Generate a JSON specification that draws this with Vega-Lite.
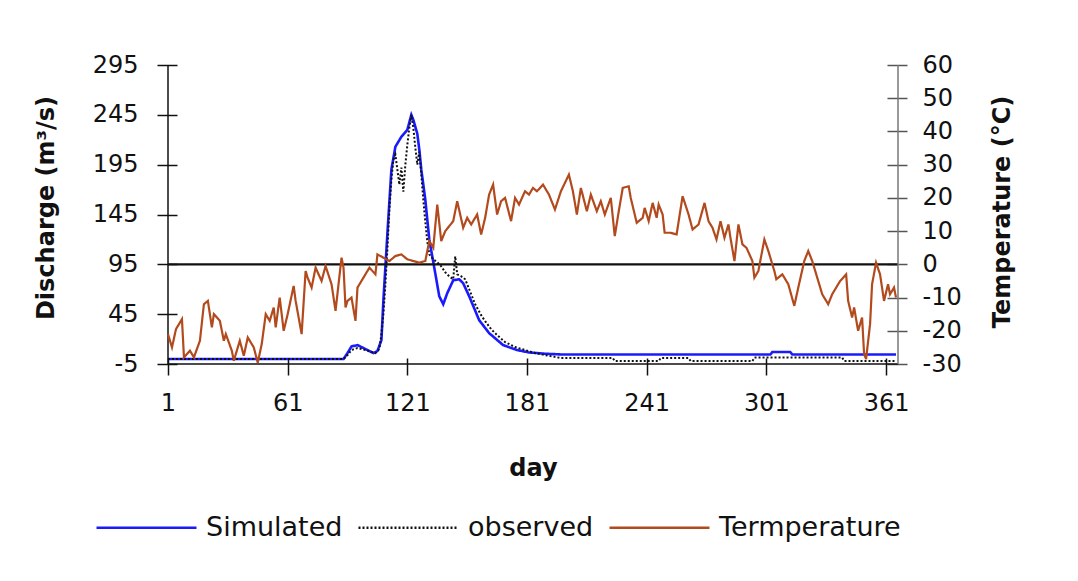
{
  "$schema": "https://vega.github.io/schema/vega-lite/v6.json",
  "autosize": {"type": "none"},
  "width": 730,
  "height": 299,
  "padding": {"left": 168, "top": 65, "right": 180, "bottom": 217},
  "background": "white",
  "config": {
    "view": {"stroke": null},
    "font": "DejaVu Sans",
    "axis": {"labelFont": "DejaVu Sans", "titleFont": "DejaVu Sans", "labelColor": "#111", "titleColor": "#111", "tickColor": "#111", "grid": false, "labelFlush": false, "labelOverlap": false}
  },
  "datasets": {
    "d": [
      {"day": 1, "value": 0, "series": "Simulated"},
      {"day": 89, "value": 0, "series": "Simulated"},
      {"day": 91, "value": 6, "series": "Simulated"},
      {"day": 93, "value": 12.6, "series": "Simulated"},
      {"day": 96, "value": 14, "series": "Simulated"},
      {"day": 100, "value": 10, "series": "Simulated"},
      {"day": 104, "value": 6, "series": "Simulated"},
      {"day": 106, "value": 8, "series": "Simulated"},
      {"day": 108, "value": 19, "series": "Simulated"},
      {"day": 109, "value": 59, "series": "Simulated"},
      {"day": 111, "value": 126, "series": "Simulated"},
      {"day": 113, "value": 190, "series": "Simulated"},
      {"day": 115, "value": 213, "series": "Simulated"},
      {"day": 118, "value": 223, "series": "Simulated"},
      {"day": 121, "value": 230, "series": "Simulated"},
      {"day": 123, "value": 245, "series": "Simulated"},
      {"day": 124, "value": 240, "series": "Simulated"},
      {"day": 126, "value": 226, "series": "Simulated"},
      {"day": 127, "value": 210, "series": "Simulated"},
      {"day": 128, "value": 190, "series": "Simulated"},
      {"day": 130, "value": 160, "series": "Simulated"},
      {"day": 132, "value": 120, "series": "Simulated"},
      {"day": 135, "value": 86, "series": "Simulated"},
      {"day": 137, "value": 63, "series": "Simulated"},
      {"day": 139, "value": 55, "series": "Simulated"},
      {"day": 141, "value": 66, "series": "Simulated"},
      {"day": 144, "value": 79, "series": "Simulated"},
      {"day": 147, "value": 80, "series": "Simulated"},
      {"day": 149, "value": 76, "series": "Simulated"},
      {"day": 152, "value": 63, "series": "Simulated"},
      {"day": 157, "value": 39, "series": "Simulated"},
      {"day": 162, "value": 26, "series": "Simulated"},
      {"day": 169, "value": 14, "series": "Simulated"},
      {"day": 176, "value": 9, "series": "Simulated"},
      {"day": 182, "value": 6.6, "series": "Simulated"},
      {"day": 190, "value": 5.3, "series": "Simulated"},
      {"day": 199, "value": 4.5, "series": "Simulated"},
      {"day": 303, "value": 4.5, "series": "Simulated"},
      {"day": 304, "value": 7, "series": "Simulated"},
      {"day": 313, "value": 7, "series": "Simulated"},
      {"day": 314, "value": 4.5, "series": "Simulated"},
      {"day": 366, "value": 4.5, "series": "Simulated"},

      {"day": 1, "value": 0, "series": "observed"},
      {"day": 89, "value": 0, "series": "observed"},
      {"day": 91, "value": 4, "series": "observed"},
      {"day": 93, "value": 9, "series": "observed"},
      {"day": 96, "value": 11, "series": "observed"},
      {"day": 100, "value": 9, "series": "observed"},
      {"day": 103, "value": 7, "series": "observed"},
      {"day": 105, "value": 6, "series": "observed"},
      {"day": 107, "value": 10, "series": "observed"},
      {"day": 108, "value": 25, "series": "observed"},
      {"day": 109, "value": 45, "series": "observed"},
      {"day": 110, "value": 75, "series": "observed"},
      {"day": 111, "value": 110, "series": "observed"},
      {"day": 112, "value": 150, "series": "observed"},
      {"day": 113, "value": 180, "series": "observed"},
      {"day": 114, "value": 200, "series": "observed"},
      {"day": 115, "value": 205, "series": "observed"},
      {"day": 116, "value": 190, "series": "observed"},
      {"day": 117, "value": 175, "series": "observed"},
      {"day": 118, "value": 192, "series": "observed"},
      {"day": 119, "value": 168, "series": "observed"},
      {"day": 120, "value": 195, "series": "observed"},
      {"day": 121, "value": 215, "series": "observed"},
      {"day": 122, "value": 232, "series": "observed"},
      {"day": 123, "value": 245, "series": "observed"},
      {"day": 124, "value": 232, "series": "observed"},
      {"day": 125, "value": 212, "series": "observed"},
      {"day": 126, "value": 195, "series": "observed"},
      {"day": 127, "value": 208, "series": "observed"},
      {"day": 128, "value": 185, "series": "observed"},
      {"day": 129, "value": 160, "series": "observed"},
      {"day": 130, "value": 138, "series": "observed"},
      {"day": 131, "value": 118, "series": "observed"},
      {"day": 132, "value": 105, "series": "observed"},
      {"day": 134, "value": 100, "series": "observed"},
      {"day": 136, "value": 97, "series": "observed"},
      {"day": 138, "value": 93, "series": "observed"},
      {"day": 140, "value": 87, "series": "observed"},
      {"day": 142, "value": 83, "series": "observed"},
      {"day": 144, "value": 80, "series": "observed"},
      {"day": 145, "value": 103, "series": "observed"},
      {"day": 146, "value": 85, "series": "observed"},
      {"day": 148, "value": 83, "series": "observed"},
      {"day": 150, "value": 80, "series": "observed"},
      {"day": 152, "value": 70, "series": "observed"},
      {"day": 155, "value": 55, "series": "observed"},
      {"day": 158, "value": 44, "series": "observed"},
      {"day": 160, "value": 38, "series": "observed"},
      {"day": 163, "value": 30, "series": "observed"},
      {"day": 166, "value": 24, "series": "observed"},
      {"day": 170, "value": 17, "series": "observed"},
      {"day": 175, "value": 12, "series": "observed"},
      {"day": 180, "value": 9, "series": "observed"},
      {"day": 185, "value": 6, "series": "observed"},
      {"day": 190, "value": 4, "series": "observed"},
      {"day": 198, "value": 1, "series": "observed"},
      {"day": 224, "value": 1, "series": "observed"},
      {"day": 225, "value": -2, "series": "observed"},
      {"day": 247, "value": -2, "series": "observed"},
      {"day": 248, "value": 1, "series": "observed"},
      {"day": 262, "value": 1, "series": "observed"},
      {"day": 263, "value": -2, "series": "observed"},
      {"day": 294, "value": -2, "series": "observed"},
      {"day": 295, "value": 1.5, "series": "observed"},
      {"day": 339, "value": 1.5, "series": "observed"},
      {"day": 340, "value": -2, "series": "observed"},
      {"day": 366, "value": -2, "series": "observed"},

      {"day": 1, "value": -21, "series": "Termperature"},
      {"day": 3, "value": -25, "series": "Termperature"},
      {"day": 5, "value": -19.5, "series": "Termperature"},
      {"day": 8, "value": -16.5, "series": "Termperature"},
      {"day": 9, "value": -28, "series": "Termperature"},
      {"day": 12, "value": -26, "series": "Termperature"},
      {"day": 14, "value": -28, "series": "Termperature"},
      {"day": 17, "value": -23, "series": "Termperature"},
      {"day": 19, "value": -12, "series": "Termperature"},
      {"day": 21, "value": -11, "series": "Termperature"},
      {"day": 23, "value": -19, "series": "Termperature"},
      {"day": 24, "value": -15, "series": "Termperature"},
      {"day": 27, "value": -17, "series": "Termperature"},
      {"day": 29, "value": -23, "series": "Termperature"},
      {"day": 30, "value": -21, "series": "Termperature"},
      {"day": 33, "value": -26, "series": "Termperature"},
      {"day": 34, "value": -29, "series": "Termperature"},
      {"day": 37, "value": -23, "series": "Termperature"},
      {"day": 39, "value": -27.5, "series": "Termperature"},
      {"day": 41, "value": -22, "series": "Termperature"},
      {"day": 44, "value": -25, "series": "Termperature"},
      {"day": 46, "value": -29.6, "series": "Termperature"},
      {"day": 48, "value": -24, "series": "Termperature"},
      {"day": 50, "value": -15, "series": "Termperature"},
      {"day": 52, "value": -17, "series": "Termperature"},
      {"day": 54, "value": -13, "series": "Termperature"},
      {"day": 55, "value": -19, "series": "Termperature"},
      {"day": 57, "value": -10, "series": "Termperature"},
      {"day": 59, "value": -20, "series": "Termperature"},
      {"day": 61, "value": -15, "series": "Termperature"},
      {"day": 64, "value": -6.5, "series": "Termperature"},
      {"day": 65, "value": -11, "series": "Termperature"},
      {"day": 68, "value": -21, "series": "Termperature"},
      {"day": 70, "value": -2, "series": "Termperature"},
      {"day": 71, "value": -4, "series": "Termperature"},
      {"day": 73, "value": -7, "series": "Termperature"},
      {"day": 75, "value": -1, "series": "Termperature"},
      {"day": 78, "value": -5, "series": "Termperature"},
      {"day": 80, "value": -0.5, "series": "Termperature"},
      {"day": 83, "value": -6, "series": "Termperature"},
      {"day": 85, "value": -14, "series": "Termperature"},
      {"day": 88, "value": 2, "series": "Termperature"},
      {"day": 89, "value": -1, "series": "Termperature"},
      {"day": 90, "value": -13, "series": "Termperature"},
      {"day": 91, "value": -11, "series": "Termperature"},
      {"day": 93, "value": -10, "series": "Termperature"},
      {"day": 95, "value": -17, "series": "Termperature"},
      {"day": 96, "value": -7, "series": "Termperature"},
      {"day": 99, "value": -4, "series": "Termperature"},
      {"day": 102, "value": -1, "series": "Termperature"},
      {"day": 105, "value": -3, "series": "Termperature"},
      {"day": 106, "value": 3, "series": "Termperature"},
      {"day": 109, "value": 2, "series": "Termperature"},
      {"day": 112, "value": 1, "series": "Termperature"},
      {"day": 115, "value": 2.5, "series": "Termperature"},
      {"day": 118, "value": 3, "series": "Termperature"},
      {"day": 121, "value": 1.5, "series": "Termperature"},
      {"day": 124, "value": 1, "series": "Termperature"},
      {"day": 127, "value": 0.5, "series": "Termperature"},
      {"day": 130, "value": 1, "series": "Termperature"},
      {"day": 132, "value": 7, "series": "Termperature"},
      {"day": 134, "value": 5, "series": "Termperature"},
      {"day": 136, "value": 18, "series": "Termperature"},
      {"day": 138, "value": 7, "series": "Termperature"},
      {"day": 140, "value": 10, "series": "Termperature"},
      {"day": 144, "value": 13, "series": "Termperature"},
      {"day": 146, "value": 19, "series": "Termperature"},
      {"day": 149, "value": 11, "series": "Termperature"},
      {"day": 151, "value": 14, "series": "Termperature"},
      {"day": 153, "value": 12, "series": "Termperature"},
      {"day": 156, "value": 15, "series": "Termperature"},
      {"day": 158, "value": 9, "series": "Termperature"},
      {"day": 160, "value": 14, "series": "Termperature"},
      {"day": 162, "value": 21, "series": "Termperature"},
      {"day": 164, "value": 24, "series": "Termperature"},
      {"day": 166, "value": 15, "series": "Termperature"},
      {"day": 168, "value": 19, "series": "Termperature"},
      {"day": 170, "value": 20, "series": "Termperature"},
      {"day": 173, "value": 13, "series": "Termperature"},
      {"day": 175, "value": 20, "series": "Termperature"},
      {"day": 177, "value": 18, "series": "Termperature"},
      {"day": 180, "value": 22, "series": "Termperature"},
      {"day": 182, "value": 21, "series": "Termperature"},
      {"day": 184, "value": 23, "series": "Termperature"},
      {"day": 186, "value": 22, "series": "Termperature"},
      {"day": 189, "value": 24, "series": "Termperature"},
      {"day": 192, "value": 21, "series": "Termperature"},
      {"day": 195, "value": 16.5, "series": "Termperature"},
      {"day": 198, "value": 22, "series": "Termperature"},
      {"day": 202, "value": 27, "series": "Termperature"},
      {"day": 204, "value": 22, "series": "Termperature"},
      {"day": 206, "value": 15, "series": "Termperature"},
      {"day": 208, "value": 23, "series": "Termperature"},
      {"day": 211, "value": 16, "series": "Termperature"},
      {"day": 213, "value": 21, "series": "Termperature"},
      {"day": 216, "value": 16, "series": "Termperature"},
      {"day": 218, "value": 19, "series": "Termperature"},
      {"day": 220, "value": 15, "series": "Termperature"},
      {"day": 223, "value": 20, "series": "Termperature"},
      {"day": 225, "value": 8.5, "series": "Termperature"},
      {"day": 227, "value": 16, "series": "Termperature"},
      {"day": 229, "value": 23, "series": "Termperature"},
      {"day": 232, "value": 23.5, "series": "Termperature"},
      {"day": 233, "value": 20, "series": "Termperature"},
      {"day": 236, "value": 12.5, "series": "Termperature"},
      {"day": 239, "value": 14, "series": "Termperature"},
      {"day": 240, "value": 17, "series": "Termperature"},
      {"day": 242, "value": 13, "series": "Termperature"},
      {"day": 244, "value": 18.5, "series": "Termperature"},
      {"day": 246, "value": 14, "series": "Termperature"},
      {"day": 247, "value": 18, "series": "Termperature"},
      {"day": 249, "value": 15, "series": "Termperature"},
      {"day": 250, "value": 9.5, "series": "Termperature"},
      {"day": 253, "value": 9.5, "series": "Termperature"},
      {"day": 256, "value": 9, "series": "Termperature"},
      {"day": 259, "value": 20.5, "series": "Termperature"},
      {"day": 262, "value": 15, "series": "Termperature"},
      {"day": 264, "value": 10.5, "series": "Termperature"},
      {"day": 267, "value": 12, "series": "Termperature"},
      {"day": 270, "value": 18.5, "series": "Termperature"},
      {"day": 272, "value": 13, "series": "Termperature"},
      {"day": 274, "value": 11, "series": "Termperature"},
      {"day": 276, "value": 7.5, "series": "Termperature"},
      {"day": 278, "value": 13, "series": "Termperature"},
      {"day": 280, "value": 8, "series": "Termperature"},
      {"day": 282, "value": 12, "series": "Termperature"},
      {"day": 283, "value": 8, "series": "Termperature"},
      {"day": 285, "value": 1, "series": "Termperature"},
      {"day": 287, "value": 12, "series": "Termperature"},
      {"day": 289, "value": 6, "series": "Termperature"},
      {"day": 291, "value": 5, "series": "Termperature"},
      {"day": 294, "value": 1, "series": "Termperature"},
      {"day": 295, "value": -4, "series": "Termperature"},
      {"day": 297, "value": -2, "series": "Termperature"},
      {"day": 300, "value": 7.5, "series": "Termperature"},
      {"day": 302, "value": 4, "series": "Termperature"},
      {"day": 305, "value": -2, "series": "Termperature"},
      {"day": 306, "value": -4.5, "series": "Termperature"},
      {"day": 309, "value": -3, "series": "Termperature"},
      {"day": 312, "value": -6, "series": "Termperature"},
      {"day": 315, "value": -12.5, "series": "Termperature"},
      {"day": 317, "value": -7, "series": "Termperature"},
      {"day": 320, "value": 1, "series": "Termperature"},
      {"day": 322, "value": 4, "series": "Termperature"},
      {"day": 324, "value": 1, "series": "Termperature"},
      {"day": 326, "value": -3, "series": "Termperature"},
      {"day": 329, "value": -9, "series": "Termperature"},
      {"day": 332, "value": -12, "series": "Termperature"},
      {"day": 334, "value": -9, "series": "Termperature"},
      {"day": 338, "value": -5, "series": "Termperature"},
      {"day": 341, "value": -3, "series": "Termperature"},
      {"day": 342, "value": -11, "series": "Termperature"},
      {"day": 344, "value": -16, "series": "Termperature"},
      {"day": 345, "value": -13, "series": "Termperature"},
      {"day": 347, "value": -20, "series": "Termperature"},
      {"day": 349, "value": -16, "series": "Termperature"},
      {"day": 350, "value": -27, "series": "Termperature"},
      {"day": 351, "value": -28.5, "series": "Termperature"},
      {"day": 353, "value": -18, "series": "Termperature"},
      {"day": 354, "value": -6, "series": "Termperature"},
      {"day": 356, "value": 0.5, "series": "Termperature"},
      {"day": 358, "value": -3, "series": "Termperature"},
      {"day": 360, "value": -11, "series": "Termperature"},
      {"day": 362, "value": -6, "series": "Termperature"},
      {"day": 363, "value": -9, "series": "Termperature"},
      {"day": 365, "value": -7, "series": "Termperature"},
      {"day": 366, "value": -10, "series": "Termperature"}
    ]
  },
  "layer": [
    {
      "layer": [
        {
          "data": {"name": "d"},
          "transform": [{"filter": "datum.series === 'Simulated'"}],
          "mark": {"type": "line", "strokeWidth": 2.6},
          "encoding": {
            "x": {
              "field": "day", "type": "quantitative",
              "scale": {"domain": [1, 367], "nice": false, "zero": false},
              "axis": {
                "values": [1, 61, 121, 181, 241, 301, 361],
                "domain": false, "offset": -6, "tickSize": 17, "tickWidth": 1.5,
                "labelPadding": 16, "labelFontSize": 24,
                "title": "day", "titleFontSize": 24, "titleFontWeight": "bold",
                "titleY": 110, "titleBaseline": "middle"
              }
            },
            "y": {
              "field": "value", "type": "quantitative",
              "scale": {"domain": [-5, 295], "nice": false, "zero": false},
              "axis": {
                "orient": "left", "values": [-5, 45, 95, 145, 195, 245, 295],
                "labelExpr": "'' + datum.value",
                "domain": false, "offset": -9, "tickSize": 20, "tickWidth": 1.5,
                "labelPadding": 19, "labelFontSize": 24,
                "title": "Discharge (m³/s)", "titleFontSize": 24, "titleFontWeight": "bold",
                "titleAngle": 270, "titleX": -131, "titleY": 142.5, "titleAlign": "center", "titleBaseline": "middle"
              }
            },
            "color": {
              "field": "series", "type": "nominal", "title": null,
              "scale": {"domain": ["Simulated", "observed", "Termperature"], "range": ["#1a1aff", "#111111", "#b24a1d"]},
              "legend": {
                "orient": "none", "legendX": -73, "legendY": 411, "direction": "horizontal",
                "symbolType": "stroke", "symbolSize": 10000, "symbolStrokeWidth": 2.5,
                "labelFontSize": 27, "labelFont": "DejaVu Sans", "labelColor": "#111", "labelOffset": 8, "labelLimit": 0, "columnPadding": 10
              }
            },
            "strokeDash": {
              "field": "series", "type": "nominal", "title": null,
              "scale": {"domain": ["Simulated", "observed", "Termperature"], "range": [[1, 0], [2, 2], [1, 0]]}
            }
          }
        },
        {
          "data": {"name": "d"},
          "transform": [{"filter": "datum.series === 'observed'"}],
          "mark": {"type": "line", "strokeWidth": 2},
          "encoding": {
            "x": {"field": "day", "type": "quantitative"},
            "y": {"field": "value", "type": "quantitative"},
            "color": {"field": "series", "type": "nominal", "title": null},
            "strokeDash": {"field": "series", "type": "nominal", "title": null}
          }
        },
        {
          "data": {"values": [{}]},
          "mark": {"type": "rule", "color": "#111", "strokeWidth": 2.2},
          "encoding": {"y": {"datum": 95, "type": "quantitative"}}
        },
        {
          "data": {"values": [{}]},
          "mark": {"type": "rule", "color": "#111", "strokeWidth": 1.5},
          "encoding": {"y": {"datum": -5, "type": "quantitative"}}
        },
        {
          "data": {"values": [{}]},
          "mark": {"type": "rule", "color": "#111", "strokeWidth": 1.5},
          "encoding": {"x": {"datum": 1, "type": "quantitative"}}
        },
        {
          "data": {"values": [{}]},
          "mark": {"type": "rule", "color": "#777", "strokeWidth": 1.5},
          "encoding": {"x": {"datum": 367, "type": "quantitative"}}
        }
      ]
    },
    {
      "data": {"name": "d"},
      "transform": [{"filter": "datum.series === 'Termperature'"}],
      "mark": {"type": "line", "strokeWidth": 2.2},
      "encoding": {
        "x": {"field": "day", "type": "quantitative"},
        "y": {
          "field": "value", "type": "quantitative",
          "scale": {"domain": [-30, 60], "nice": false, "zero": false},
          "axis": {
            "orient": "right", "values": [-30, -20, -10, 0, 10, 20, 30, 40, 50, 60],
            "labelExpr": "'' + datum.value",
            "domain": false, "offset": -11, "tickSize": 20, "tickWidth": 1.5, "tickColor": "#555",
            "labelPadding": 15, "labelFontSize": 24,
            "title": "Temperature (°C)", "titleFontSize": 24, "titleFontWeight": "bold",
            "titleAngle": 270, "titleX": 115, "titleY": 146.5, "titleAlign": "center", "titleBaseline": "middle"
          }
        },
        "color": {"field": "series", "type": "nominal", "title": null},
        "strokeDash": {"field": "series", "type": "nominal", "title": null}
      }
    }
  ],
  "resolve": {"scale": {"y": "independent"}}
}
